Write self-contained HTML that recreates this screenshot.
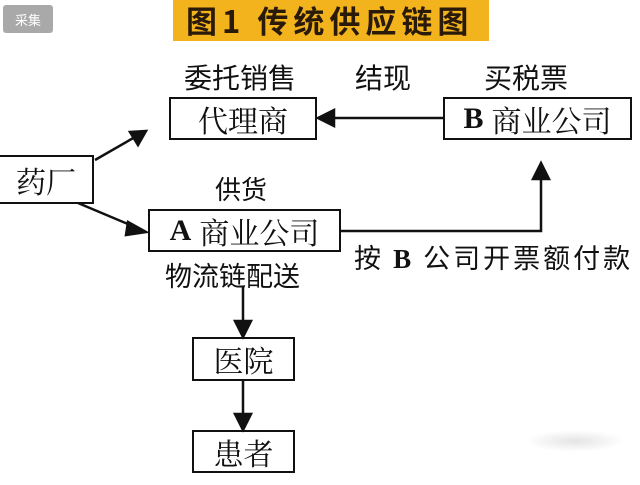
<!DOCTYPE html>
<html><head><meta charset="utf-8"><style>
body{margin:0;width:640px;height:485px;background:#fff;overflow:hidden;position:relative;font-family:"Liberation Serif","Noto Serif CJK SC",serif;color:#111}
.t{position:absolute;white-space:nowrap;line-height:1}
.b{position:absolute;border:2px solid #111;box-sizing:border-box;display:flex;align-items:center;justify-content:center;font-size:30px;background:#fff}
</style></head><body>
<div style="position:absolute;left:3px;top:5px;width:50px;height:28px;background:#a9a9a9;border-radius:3px;color:#fff;font:13px 'Liberation Sans','Noto Sans CJK SC',sans-serif;display:flex;align-items:center;justify-content:center">采集</div>
<div style="position:absolute;left:173px;top:0;width:316px;height:41px;background:#f2b31c"></div>
<div class="t" style="left:186px;top:4px;font-size:31px;font-weight:bold;letter-spacing:5px;font-family:'Noto Sans CJK SC',sans-serif;color:#2a1a0a">图1 传统供应链图</div>
<div class="t" style="left:184px;top:63px;font-size:28px;font-family:'Noto Sans CJK SC',sans-serif">委托销售</div>
<div class="t" style="left:355px;top:63px;font-size:28px;font-family:'Noto Sans CJK SC',sans-serif">结现</div>
<div class="t" style="left:484px;top:63px;font-size:28px;font-family:'Noto Sans CJK SC',sans-serif">买税票</div>
<div class="b" style="left:169px;top:97px;width:148px;height:43px">代理商</div>
<div class="b" style="left:443px;top:97px;width:189px;height:43px"><b style="font-family:'Liberation Serif';margin-right:8px">B</b>商业公司</div>
<div class="b" style="left:-2px;top:155px;width:96px;height:49px">药厂</div>
<div class="t" style="left:215px;top:176px;font-size:26px;font-family:'Noto Sans CJK SC',sans-serif">供货</div>
<div class="b" style="left:148px;top:209px;width:193px;height:43px"><b style="font-family:'Liberation Serif';margin-right:8px">A</b>商业公司</div>
<div class="t" style="left:354px;top:243px;font-size:27px;letter-spacing:3px;font-family:'Noto Sans CJK SC',sans-serif">按 <b style="font-family:'Liberation Serif'">B</b> 公司开票额付款</div>
<div class="t" style="left:165px;top:261px;font-size:27px;font-family:'Noto Sans CJK SC',sans-serif">物流链配送</div>
<div class="b" style="left:192px;top:337px;width:103px;height:44px">医院</div>
<div class="b" style="left:192px;top:430px;width:103px;height:43px">患者</div>
<div style="position:absolute;left:525px;top:430px;width:100px;height:22px;background:radial-gradient(#e4e4e4,#fff 70%);"></div>
<svg width="640" height="485" style="position:absolute;left:0;top:0">
<g stroke="#111" stroke-width="2.5" fill="#111">
<line x1="330" y1="118" x2="443" y2="118"/><polygon points="318,118 334,110 334,126"/>
<line x1="95" y1="160" x2="135" y2="137"/><polygon points="146,131 130,132 138,145"/>
<line x1="78" y1="203" x2="135" y2="227"/><polygon points="146,232 128,222 126,235"/>
<polyline fill="none" points="341,231 541,231 541,175"/><polygon points="541,163 533,179 549,179"/>
<line x1="243" y1="287" x2="243" y2="325"/><polygon points="243,337 235,321 251,321"/>
<line x1="243" y1="381" x2="243" y2="418"/><polygon points="243,430 235,414 251,414"/>
</g></svg>
</body></html>
